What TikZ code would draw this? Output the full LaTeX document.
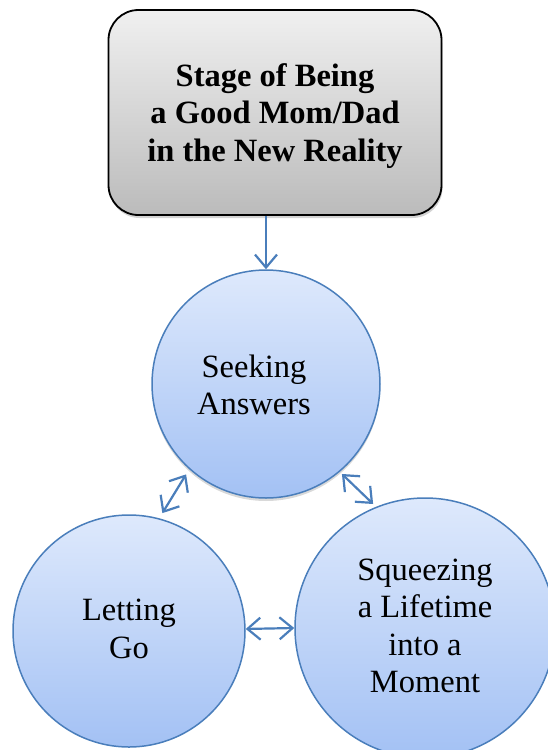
\documentclass[tikz,border=0pt]{standalone}
\usepackage{fontspec}
\setmainfont{Liberation Serif}
\usetikzlibrary{arrows.meta,shadows}

\definecolor{ringblue}{HTML}{4A7EBB}
\definecolor{ringtop}{HTML}{DEE9FC}
\definecolor{ringbottom}{HTML}{A3C1F4}
\definecolor{boxtop}{HTML}{F0F0F0}
\definecolor{boxbottom}{HTML}{BBBBBB}

\tikzset{
  stagebox/.style={draw=black, line width=1.8pt, rounded corners=30pt,
    top color=boxtop, bottom color=boxbottom,
    minimum width=333pt, minimum height=205pt,
    drop shadow={opacity=0.35, shadow xshift=1pt, shadow yshift=-3pt}},
  stagetext/.style={font=\bfseries\fontsize{32.5}{37.5}\selectfont, align=center, inner sep=0pt},
  ring/.style={circle, draw=ringblue, line width=1.5pt,
    top color=ringtop, bottom color=ringbottom, inner sep=0pt},
  ringshadow/.style={drop shadow={opacity=0.3, shadow xshift=0pt, shadow yshift=-3pt}},
  ringtext/.style={font=\fontsize{32.5}{37.5}\selectfont, align=center, inner sep=0pt},
  barb/.tip={Straight Barb[length=13pt,width=22pt]},
  flow/.style={draw=ringblue, line width=2.2pt, -barb},
  link/.style={draw=ringblue, line width=2.2pt, barb-barb},
}

\begin{document}
\begin{tikzpicture}[x=1pt,y=-1pt]
  \useasboundingbox (0,0) rectangle (547,750);

  % heading box
  \node[stagebox] (B) at (275,112.5) {};
  \node[stagetext] (Bt) at (275,116)
    {Stage of Being\\a Good Mom/Dad\\in the New Reality};

  % the three stages
  \node[ring, ringshadow, minimum size=228pt] (S) at (266,384) {};
  \node[ring, minimum size=232pt] (L) at (129,631) {};
  \node[ring, minimum size=260pt] (Q) at (425,628) {};

  \node[ringtext] (St) at (254,385) {Seeking\\Answers};
  \node[ringtext] (Lt) at (129,629) {Letting\\Go};
  \node[ringtext] (Qt) at (425,626) {Squeezing\\a Lifetime\\into a\\Moment};

  % connectors
  \draw[flow] (B.south -| S.north) -- (S.north);
  \draw[link, shorten <=6pt, shorten >=6pt] (L.75) -- (S.228);
  \draw[link, shorten <=3pt, shorten >=4pt] (S.310) -- (Q.112);
  \draw[link] (L.1) -- (Q.180);
\end{tikzpicture}
\end{document}
